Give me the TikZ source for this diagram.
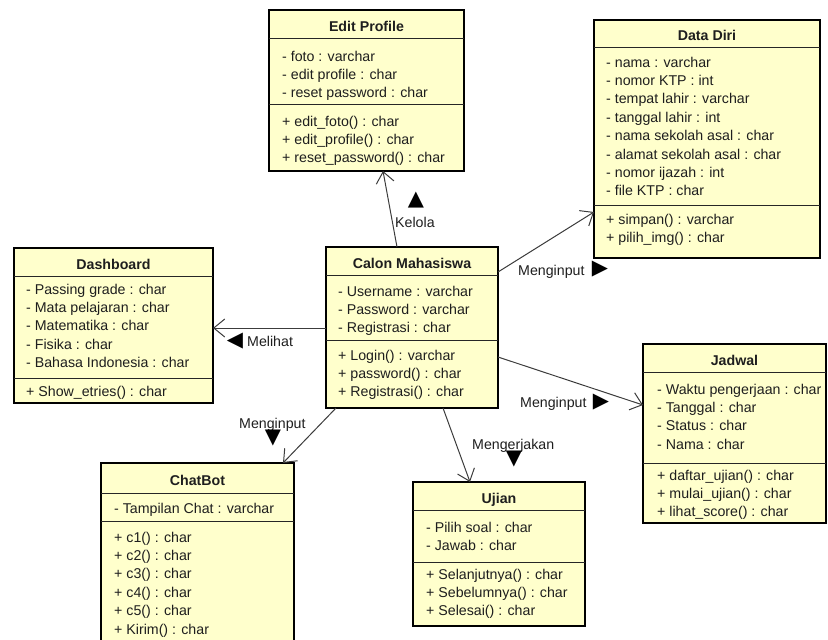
\documentclass[tikz,border=0pt]{standalone}
\usepackage{fontspec}
\setmainfont{Liberation Sans}
\newfontfamily\symfont{DejaVu Sans}
\usetikzlibrary{arrows.meta}
\definecolor{classfill}{RGB}{255,255,204}
\definecolor{ink}{RGB}{30,30,30}
\definecolor{wire}{RGB}{60,60,60}

\tikzset{
  classnode/.style={draw=black, fill=classfill, line width=1.6pt, inner sep=0pt, outer sep=0pt},
  sepline/.style={draw=black!85, line width=1pt},
  classtitle/.style={font=\fontsize{14.2}{16}\selectfont\bfseries, text=ink, inner sep=0pt, anchor=base},
  row/.style={font=\fontsize{14.2}{16}\selectfont, text=ink, anchor=base west, inner sep=0pt},
  assoc/.style={draw=wire, line width=1pt, -{Straight Barb[length=11pt,width=18pt,line width=1pt]}},
  lbl/.style={font=\fontsize{14.2}{16}\selectfont, text=ink, inner sep=0pt, anchor=base west},
  tri/.style={font=\symfont\fontsize{21}{21}\selectfont, text=black, inner sep=0pt},
}

% class frame: name, left, top, right, bottom, header line, separator line, title
\newcommand\classbox[8]{%
  \node[classnode, anchor=north west,
        minimum width={(#4-#2)*1pt}, minimum height={(#5-#3)*1pt}] (#1) at (#2,#3) {};
  \draw[sepline] (#2,#6) -- (#4,#6);
  \draw[sepline] (#2,#7) -- (#4,#7);
  \node[classtitle] (#1-title) at ({(#2+#4)/2},{(#3+#6)/2+7}) {#8};
}
% compartment rows: name prefix, left of text, centre of first row, rows
\newcommand\classrows[4]{%
  \foreach \t [count=\i from 0] in {#4}
    \node[row] (#1-\i) at (#2,{#3+18.4*\i+5}) {\t};
}

\begin{document}
\begin{tikzpicture}[x=1pt,y=-1pt]
\useasboundingbox (0,0) rectangle (828,640);
\clip (0,0) rectangle (828,640);

% Edit Profile
\classbox{ep}{269}{10}{464}{171}{38}{104}{Edit Profile}
\classrows{epa}{282}{56}{- foto : varchar, - edit profile : char, - reset password : char}
\classrows{epm}{282}{121}{+ edit\_foto() : char, + edit\_profile() : char, + reset\_password() : char}

% Data Diri
\classbox{dd}{594}{20}{820}{258}{47}{205}{Data Diri}
\classrows{dda}{606}{62}{- nama : varchar, - nomor KTP : int, - tempat lahir : varchar, - tanggal lahir : int, - nama sekolah asal : char, - alamat sekolah asal : char, - nomor ijazah : int, - file KTP : char}
\classrows{ddm}{606}{219}{+ simpan() : varchar, + pilih\_img() : char}

% Dashboard
\classbox{db}{14}{248}{213}{403}{276}{378}{Dashboard}
\classrows{dba}{26}{289}{- Passing grade : char, - Mata pelajaran : char, - Matematika : char, - Fisika : char, - Bahasa Indonesia : char}
\classrows{dbm}{26}{391}{+ Show\_etries() : char}

% Calon Mahasiswa
\classbox{cm}{326}{247}{498}{408}{275}{340}{Calon Mahasiswa}
\classrows{cma}{338}{291}{- Username : varchar, - Password : varchar, - Registrasi : char}
\classrows{cmm}{338}{355}{+ Login() : varchar, + password() : char, + Registrasi() : char}

% Jadwal
\classbox{jd}{643}{344}{826}{523}{372}{463}{Jadwal}
\classrows{jda}{657}{389}{- Waktu pengerjaan : char, - Tanggal : char, - Status : char, - Nama : char}
\classrows{jdm}{657}{475}{+ daftar\_ujian() : char, + mulai\_ujian() : char, + lihat\_score() : char}

% ChatBot
\classbox{cb}{101}{463}{294}{660}{493}{521}{ChatBot}
\classrows{cba}{114}{508}{- Tampilan Chat : varchar}
\classrows{cbm}{114}{537}{+ c1() : char, + c2() : char, + c3() : char, + c4() : char, + c5() : char, + Kirim() : char}

% Ujian
\classbox{uj}{413}{482}{585}{626}{510}{562}{Ujian}
\classrows{uja}{426}{527}{- Pilih soal : char, - Jawab : char}
\classrows{ujm}{426}{574}{+ Selanjutnya() : char, + Sebelumnya() : char, + Selesai() : char}

% associations
\draw[assoc] ([xshift=71pt]cm.north west) -- ([xshift=114pt]ep.south west);
\draw[assoc] ([yshift=-25pt]cm.north east) -- ([yshift=-192pt]dd.north west);
\draw[assoc] ([yshift=-81pt]cm.north west) -- ([yshift=-80pt]db.north east);
\draw[assoc] ([yshift=-110pt]cm.north east) -- ([yshift=-61pt]jd.north west);
\draw[assoc] ([xshift=10pt]cm.south west) -- ([xshift=182pt]cb.north west);
\draw[assoc] ([xshift=117pt]cm.south west) -- ([xshift=57pt]uj.north west);

% association labels
\node[lbl] (lkelola) at (395,227) {Kelola};
\node[tri] (tkelola) at (416,200) {▲};
\node[lbl] (ldd) at (518,275) {Menginput};
\node[tri] (tdd) at (600,269) {▶};
\node[lbl] (ldb) at (247,346) {Melihat};
\node[tri] (tdb) at (235,341) {◀};
\node[lbl] (ljd) at (520,407) {Menginput};
\node[tri] (tjd) at (601,402) {▶};
\node[lbl] (lcb) at (239,428) {Menginput};
\node[tri] (tcb) at (273,438) {▼};
\node[lbl] (luj) at (472,449) {Mengerjakan};
\node[tri] (tuj) at (514,459) {▼};
\end{tikzpicture}
\end{document}
